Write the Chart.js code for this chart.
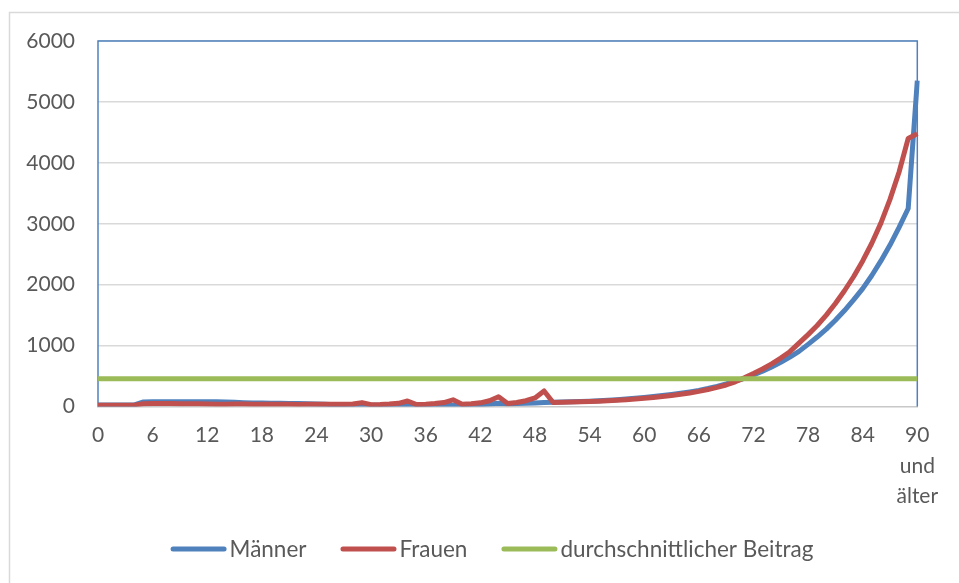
<!DOCTYPE html>
<html><head><meta charset="utf-8">
<script src="https://cdn.jsdelivr.net/npm/chart.js@4/dist/chart.umd.min.js"></script>
<style>html,body{margin:0;padding:0;background:#fff}canvas{display:block}</style>
</head><body>
<canvas id="c" width="959" height="583"></canvas>
<script>
const ages = ["0","1","2","3","4","5","6","7","8","9","10","11","12","13","14","15","16","17","18","19",
  "20","21","22","23","24","25","26","27","28","29","30","31","32","33","34","35","36","37","38","39",
  "40","41","42","43","44","45","46","47","48","49","50","51","52","53","54","55","56","57","58","59",
  "60","61","62","63","64","65","66","67","68","69","70","71","72","73","74","75","76","77","78","79",
  "80","81","82","83","84","85","86","87","88","89",["90","und","älter"]];

const maenner = [25,25,25,25,25,75,78,78,78,78,
  78,78,78,77,75,68,62,58,56,55,
  52,50,48,45,42,35,30,27,25,22,
  20,20,20,20,20,20,20,20,20,20,
  22,25,32,42,55,45,48,52,58,65,
  68,72,77,82,88,95,103,112,123,135,
  148,163,180,198,218,240,265,295,330,370,
  415,462,520,580,650,725,810,905,1020,1140,
  1270,1415,1575,1750,1935,2150,2390,2650,2940,3250,
  5350];

const frauen = [20,20,20,20,20,45,48,48,48,47,
  46,45,42,36,35,42,40,38,37,36,
  36,35,33,35,37,36,35,36,40,64,
  30,33,40,52,90,32,38,48,65,110,
  38,45,60,95,160,50,65,95,140,255,
  65,68,72,76,81,87,94,102,111,122,
  134,148,163,180,200,222,248,278,313,353,
  405,470,540,615,700,795,900,1040,1180,1330,
  1500,1690,1900,2130,2390,2680,3010,3400,3850,4400,
  4480];

const durchschnitt = [455,455,455,455,455,455,455,455,455,455,
  455,455,455,455,455,455,455,455,455,455,
  455,455,455,455,455,455,455,455,455,455,
  455,455,455,455,455,455,455,455,455,455,
  455,455,455,455,455,455,455,455,455,455,
  455,455,455,455,455,455,455,455,455,455,
  455,455,455,455,455,455,455,455,455,455,
  455,455,455,455,455,455,455,455,455,455,
  455,455,455,455,455,455,455,455,455,455,
  455];

const yTicks = [0,1000,2000,3000,4000,5000,6000];
const seriesNames = ["Männer","Frauen","durchschnittlicher Beitrag"];
const seriesColors = ["#4F81BD","#C0504D","#9BBB59"];
const xLabelStep = 6;

const FONT_FAMILY = "Lato, 'Open Sans', sans-serif";
const FONT_SIZE = 21;
const LEGEND_FONT_SIZE = 22.5;
const TEXT_COLOR = "#595959";

const framePlugin = {
  id: 'frame',
  beforeDraw(chart) {
    const ctx = chart.ctx;
    ctx.save();
    ctx.fillStyle = '#ffffff';
    ctx.fillRect(0, 0, chart.width, chart.height);
    ctx.strokeStyle = '#d9d9d9';
    ctx.lineWidth = 1.5;
    ctx.beginPath();
    ctx.moveTo(9.5, chart.height + 5);
    ctx.lineTo(9.5, 12.5);
    ctx.lineTo(chart.width + 5, 12.5);
    ctx.stroke();
    ctx.restore();
  },
  beforeDatasetsDraw(chart) {
    const a = chart.chartArea;
    const ctx = chart.ctx;
    ctx.save();
    ctx.strokeStyle = '#4F81BD';
    ctx.lineWidth = 1.5;
    ctx.beginPath();
    ctx.moveTo(a.left, a.bottom);
    ctx.lineTo(a.left, a.top);
    ctx.lineTo(a.right, a.top);
    ctx.lineTo(a.right, a.bottom);
    ctx.stroke();
    ctx.restore();
  }
};

const legendPlugin = {
  id: 'customLegend',
  afterDraw(chart) {
    const ctx = chart.ctx;
    ctx.save();
    ctx.font = LEGEND_FONT_SIZE + 'px ' + FONT_FAMILY;
    const lineLen = 56, gap = 3, spacing = 34, yMid = 549, center = 492;
    const items = seriesNames.map((n, i) => ({ label: n, color: seriesColors[i], w: ctx.measureText(n).width }));
    const total = items.reduce((s, it) => s + lineLen + gap + it.w, 0) + spacing * (items.length - 1);
    let x = center - total / 2;
    ctx.textBaseline = 'middle';
    ctx.textAlign = 'left';
    items.forEach(it => {
      ctx.strokeStyle = it.color;
      ctx.lineWidth = 5;
      ctx.lineCap = 'round';
      ctx.beginPath();
      ctx.moveTo(x + 2.5, yMid);
      ctx.lineTo(x + lineLen - 2.5, yMid);
      ctx.stroke();
      ctx.fillStyle = TEXT_COLOR;
      ctx.fillText(it.label, x + lineLen + gap, yMid + 1);
      x += lineLen + gap + it.w + spacing;
    });
    ctx.restore();
  }
};

const lineDs = (label, data, color, order) => ({
  label, data, borderColor: color, backgroundColor: color,
  borderWidth: 5, pointRadius: 0, pointHoverRadius: 0, tension: 0,
  borderJoinStyle: 'round', borderCapStyle: 'butt', fill: false, order
});

new Chart(document.getElementById('c'), {
  type: 'line',
  data: {
    labels: ages,
    datasets: [
      lineDs(seriesNames[0], maenner, seriesColors[0], 2),
      lineDs(seriesNames[1], frauen, seriesColors[1], 1),
      lineDs(seriesNames[2], durchschnitt, seriesColors[2], 0)
    ]
  },
  options: {
    responsive: false,
    devicePixelRatio: 1,
    animation: false,
    events: [],
    layout: { padding: { top: 41, right: 41.7, left: 0, bottom: 0 } },
    plugins: { legend: { display: false }, tooltip: { enabled: false } },
    scales: {
      x: {
        type: 'category',
        grid: { display: false, drawTicks: false },
        border: { display: true, color: '#c8c8c8', width: 1.5 },
        ticks: {
          autoSkip: false, maxRotation: 0, minRotation: 0, padding: 14,
          color: TEXT_COLOR,
          font: { family: FONT_FAMILY, size: FONT_SIZE, lineHeight: 1.45 },
          callback(v, i) { return i % xLabelStep === 0 ? this.getLabelForValue(v) : ''; }
        },
        afterFit(s) { s.height = 583 - 406.5; }
      },
      y: {
        min: 0, max: 6000,
        afterBuildTicks(s) { s.ticks = yTicks.map(v => ({ value: v })); },
        grid: {
          drawTicks: false, lineWidth: 1.5,
          color: c => (c.tick && c.tick.value === 0) ? 'rgba(0,0,0,0)' : '#d9d9d9'
        },
        border: { display: false },
        ticks: {
          padding: 23, color: TEXT_COLOR, font: { family: FONT_FAMILY, size: FONT_SIZE },
          callback(v) { return String(v); }
        },
        afterFit(s) { s.width = 98; }
      }
    }
  },
  plugins: [framePlugin, legendPlugin]
});
</script>
</body></html>
